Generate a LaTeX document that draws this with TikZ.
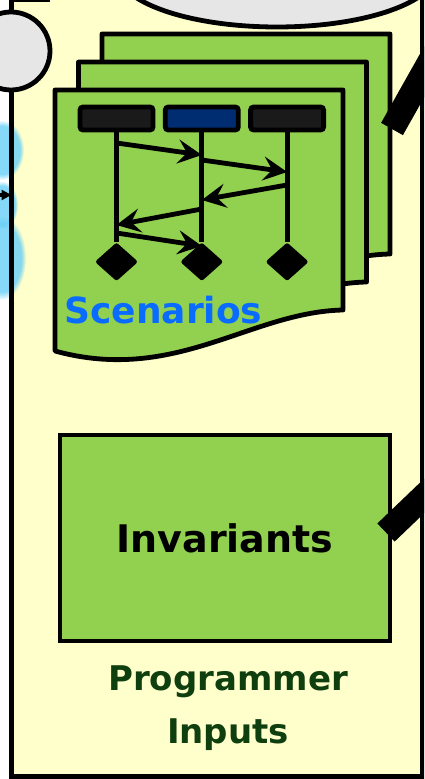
\documentclass[tikz,border=0pt]{standalone}
\usepackage{fontspec}
\setmainfont{DejaVu Sans}
\usetikzlibrary{arrows.meta,positioning,shapes.geometric,fadings}

\definecolor{padyellow}{HTML}{FFFFCC}
\definecolor{leafgreen}{HTML}{92D050}
\definecolor{cloudgray}{HTML}{E6E6E6}
\definecolor{headdark}{HTML}{1A1A1A}
\definecolor{headblue}{HTML}{002D72}
\definecolor{scnblue}{HTML}{0A6CFF}
\definecolor{inkgreen}{HTML}{0F3F0F}

\begin{document}
\begin{tikzpicture}[
    x=0.5pt, y=-0.5pt,
    font=\bfseries,
    line width=2.4pt,
    page/.style={draw, line join=round, fill=leafgreen},
    head/.style={draw, rounded corners=1.5pt, minimum width=36.5pt, minimum height=11.5pt, inner sep=0pt},
    endmark/.style={diamond, draw, fill=black, line join=round, aspect=1, inner sep=0pt, minimum width=19pt, minimum height=17pt},
    msg/.style={-{Stealth[length=12pt, width=12pt, inset=4.5pt]}},
    bar/.style={line width=12.5pt, line cap=butt},
    box/.style={draw, fill=leafgreen, minimum width=165pt, minimum height=103pt, font=\bfseries\fontsize{19}{23}\selectfont},
    glow/.style={cyan!60, fill opacity=0.8, path fading=circle with fuzzy edge 20 percent},
    node distance=3.75pt
  ]
  \useasboundingbox (0,0) rectangle (424,779);
  \clip (0,0) rectangle (424,779);

  % panel behind everything
  \fill[padyellow] (11.5,-20) rectangle (422.5,776.5);
  \fill[glow] (2,150) ellipse [x radius=22, y radius=30];
  \fill[glow] (2,205) ellipse [x radius=16, y radius=24];
  \fill[glow] (2,258) ellipse [x radius=24, y radius=42];
  \draw (11.5,-20) rectangle (422.5,776.5);

  % pieces coming from outside
  \draw[fill=cloudgray] (277,-29) ellipse [x radius=160, y radius=56];
  \draw[line width=1.5pt] (13,0.5) -- (50,0.5);
  \node[circle, draw, fill=cloudgray, minimum size=39pt] (port) at (11,51) {};
  \coordinate (feed) at (-12,195);
  \coordinate (panelW) at (11.5,195);
  \draw[-{Triangle[length=5pt, width=5pt]}] (feed) -- (panelW);

  % stack of scenario pages
  \foreach \s in {2,1,0}
    \draw[page, shift={(23.5*\s,-28*\s)}] (55,90) -- (343,90) -- (343,310)
      .. controls (250,312) and (175,384) .. (55,351) -- cycle;

  \node[head, fill=headdark] (h1) at (116.5,118.5) {};
  \node[head, fill=headblue, right=of h1] (h2) {};
  \node[head, fill=headdark, right=of h2] (h3) {};
  \node[endmark, below=55pt of h1] (d1) {};
  \node[endmark, below=55pt of h2] (d2) {};
  \node[endmark, below=55pt of h3] (d3) {};
  \draw (h1) -- (d1);
  \draw (h2) -- (d2);
  \draw (h3) -- (d3);

  \draw[msg] (h1 |- 0,143) -- (h2 |- 0,155);
  \draw[msg] (h2 |- 0,160) -- (h3 |- 0,172);
  \draw[msg] (h3 |- 0,185) -- (h2 |- 0,200);
  \draw[msg] (h2 |- 0,209) -- (h1 |- 0,225);
  \draw[msg] (h1 |- 0,233) -- (h2 |- 0,246);

  \node[anchor=base west, inner sep=0pt, text=scnblue, font=\bfseries\fontsize{18}{22}\selectfont] (scn) at (62,324) {Scenarios};

  % invariants and caption
  \node[box] (inv) at (225,538) {Invariants};
  \node[align=center, inner sep=0pt, text=inkgreen, font=\bfseries\fontsize{17}{26.5}\selectfont] (prog) at (228,708) {Programmer\\Inputs};

  % thick links leaving the panel
  \coordinate (scnport) at (392,129);
  \coordinate (scnfeed) at (441,42);
  \coordinate (invport) at (386,532.5);
  \coordinate (invfeed) at (458,463.5);
  \draw[bar] (scnfeed) -- (scnport);
  \draw[bar] (invfeed) -- (invport);
\end{tikzpicture}
\end{document}
